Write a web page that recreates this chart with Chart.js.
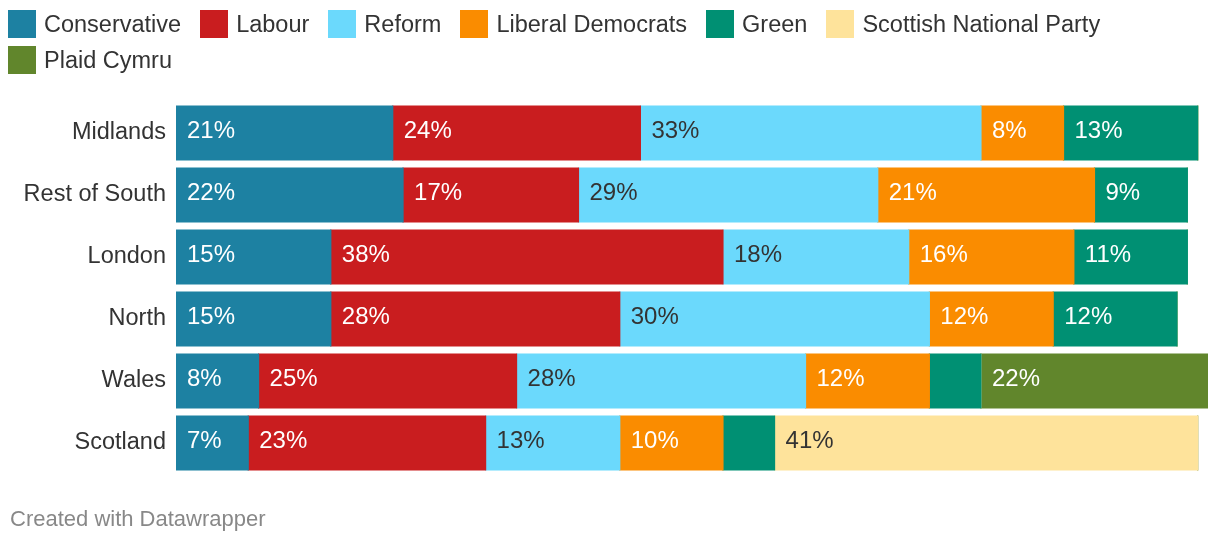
<!DOCTYPE html>
<html>
<head>
<meta charset="utf-8">
<script src="https://cdn.jsdelivr.net/npm/chart.js@4"></script>
<style>
    body { margin: 0; width: 1220px; height: 542px; overflow: hidden; background: #fff; font-family: "Liberation Sans", Arial, sans-serif; }
    #wrap { position: relative; width: 1220px; height: 542px; }
    #chart { position: absolute; left: 0; top: 0; }
    #legend { position: absolute; left: 8px; top: 10px; width: 1200px; display: flex; flex-wrap: wrap; column-gap: 19px; row-gap: 8px; }
    .item { display: flex; align-items: center; height: 28px; font-size: 23.5px; color: #333; }
    .box { width: 28px; height: 28px; margin-right: 8px; }
    #footer { position: absolute; left: 10px; top: 506px; font-size: 22px; color: #888; }
</style>
</head>
<body>
<div id="wrap">
    <canvas id="chart" width="1220" height="542"></canvas>
    <div id="legend"></div>
    <div id="footer">Created with Datawrapper</div>
</div>
<script>
    // Regions, top to bottom
    const regions = ['Midlands', 'Rest of South', 'London', 'North', 'Wales', 'Scotland'];

    // Vote share by party (%), same order as regions
    const conservative = [21, 22, 15, 15, 8, 7];
    const labour = [24, 17, 38, 28, 25, 23];
    const reform = [33, 29, 18, 30, 28, 13];
    const libDems = [8, 21, 16, 12, 12, 10];
    const green = [13, 9, 11, 12, 5, 5];
    const snp = [0, 0, 0, 0, 0, 41];
    const plaid = [0, 0, 0, 0, 22, 0];

    const parties = [
        { name: 'Conservative', data: conservative, color: '#1d81a2', text: '#fff' },
        { name: 'Labour', data: labour, color: '#c91d1f', text: '#fff' },
        { name: 'Reform', data: reform, color: '#6bd9fc', text: '#333' },
        { name: 'Liberal Democrats', data: libDems, color: '#fa8c00', text: '#fff' },
        { name: 'Green', data: green, color: '#009073', text: '#fff' },
        { name: 'Scottish National Party', data: snp, color: '#fee39b', text: '#333' },
        { name: 'Plaid Cymru', data: plaid, color: '#61862c', text: '#fff' }
    ];

    // Legend
    const legend = document.getElementById('legend');
    parties.forEach(p => {
        const item = document.createElement('div');
        item.className = 'item';
        item.innerHTML = '<span class="box" style="background:' + p.color + '"></span>' + p.name;
        legend.appendChild(item);
    });

    // Percent labels inside the segments
    const segmentLabels = {
        id: 'segmentLabels',
        afterDatasetsDraw(chart) {
            const ctx = chart.ctx;
            ctx.save();
            ctx.font = '24px "Liberation Sans", Arial, sans-serif';
            ctx.textAlign = 'left';
            ctx.textBaseline = 'middle';
            chart.data.datasets.forEach((ds, i) => {
                chart.getDatasetMeta(i).data.forEach((bar, j) => {
                    const v = ds.data[j];
                    if (!v || v < 6) return;
                    ctx.fillStyle = parties[i].text;
                    ctx.fillText(v + '%', bar.base + 11, bar.y - 2);
                });
            });
            ctx.restore();
        }
    };

    new Chart(document.getElementById('chart'), {
        type: 'bar',
        data: {
            labels: regions,
            datasets: parties.map(p => ({
                label: p.name,
                data: p.data,
                backgroundColor: p.color,
                borderWidth: 0,
                inflateAmount: 0.6,
                barPercentage: 0.87,
                categoryPercentage: 1
            }))
        },
        options: {
            indexAxis: 'y',
            responsive: false,
            animation: false,
            layout: { padding: { top: 102, bottom: 68, right: 12, left: 0 } },
            plugins: {
                legend: { display: false },
                tooltip: { enabled: false }
            },
            scales: {
                x: { stacked: true, min: 0, max: 100, display: false },
                y: {
                    stacked: true,
                    grid: { display: false },
                    border: { display: false },
                    ticks: {
                        color: '#333',
                        padding: 2,
                        font: { family: '"Liberation Sans", Arial, sans-serif', size: 23.5 }
                    },
                    afterFit(scale) { scale.width = 176; }
                }
            }
        },
        plugins: [segmentLabels]
    });
</script>
</body>
</html>
